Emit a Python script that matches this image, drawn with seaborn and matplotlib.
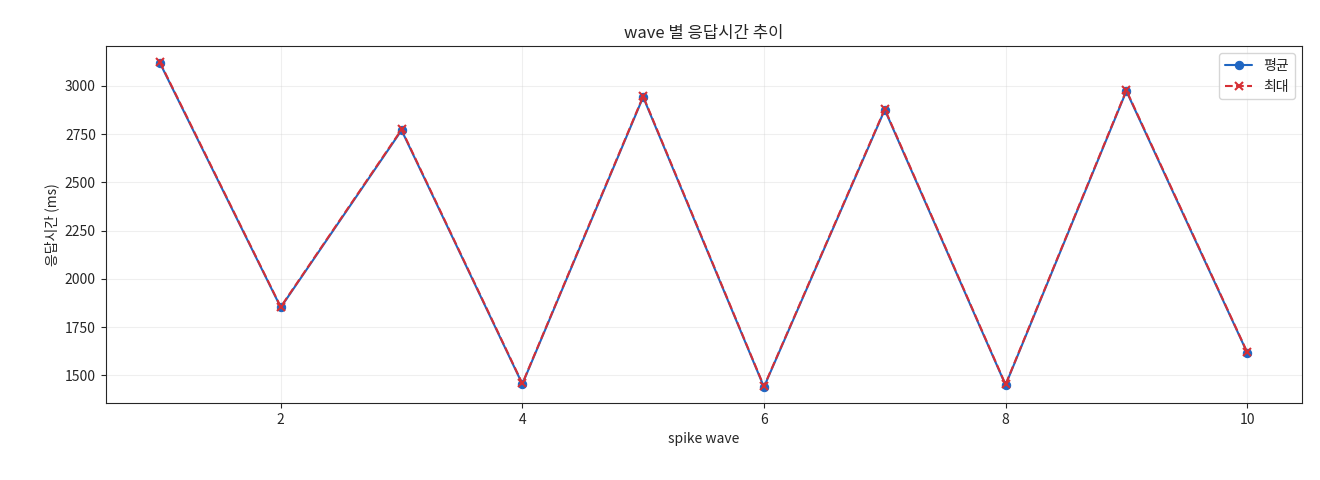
import matplotlib
matplotlib.use("Agg")
import matplotlib.pyplot as plt
import seaborn as sns
import pandas as pd

waves = [1, 2, 3, 4, 5, 6, 7, 8, 9, 10]
avg_ms = [3118, 1852, 2770, 1455, 2942, 1440, 2876, 1450, 2973, 1618]
max_ms = [3122, 1855, 2774, 1458, 2946, 1443, 2880, 1453, 2977, 1621]

sns.set_style("ticks")
plt.rcParams['font.family'] = ['Noto Sans CJK KR', 'DejaVu Sans']

df = pd.DataFrame({"wave": waves, "avg": avg_ms, "max": max_ms})
fig, ax = plt.subplots(figsize=(13.2, 4.8), dpi=100)
fig.subplots_adjust(left=0.08, right=0.986, top=0.904, bottom=0.16)
sns.lineplot(data=df, x="wave", y="avg", ax=ax, color="#1f66c2", marker="o",
             markersize=6, markeredgecolor="#1f66c2", label="평균")
sns.lineplot(data=df, x="wave", y="max", ax=ax, color="#d62f35", marker="x",
             markersize=6, markeredgecolor="#d62f35", markeredgewidth=1.5,
             linestyle="--", label="최대")
ax.set_title("wave 별 응답시간 추이", fontsize=12)
ax.set_xlabel("spike wave", fontsize=10)
ax.set_ylabel("응답시간 (ms)", fontsize=10)
ax.set_xticks([2, 4, 6, 8, 10])
ax.grid(True, alpha=0.3)
ax.legend(loc="upper right")
fig.savefig("out.png")
